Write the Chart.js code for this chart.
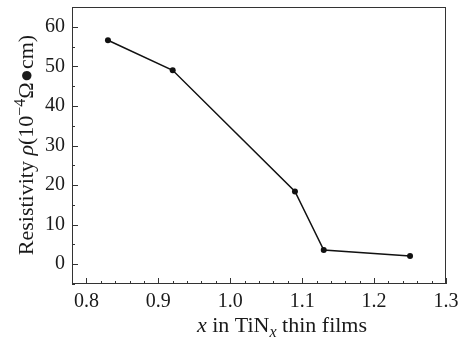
<!DOCTYPE html>
<html>
<head>
<meta charset="utf-8">
<script src="https://cdn.jsdelivr.net/npm/chart.js@4"></script>
<style>
  html, body { margin: 0; padding: 0; background: #fff; }
  #wrap { width: 458px; height: 342px; }
</style>
</head>
<body>
<div id="wrap"><canvas id="grafico" width="458" height="342"></canvas></div>
<script>
// dados
const xValores = [0.83, 0.92, 1.09, 1.13, 1.25]
const resistividade = [56.6, 49.0, 18.4, 3.6, 2.1]
const xTicks = [0.78, 0.80, 0.82, 0.84, 0.86, 0.88, 0.90, 0.92, 0.94, 0.96, 0.98, 1.00, 1.02, 1.04, 1.06, 1.08, 1.10, 1.12, 1.14, 1.16, 1.18, 1.20, 1.22, 1.24, 1.26, 1.28, 1.30]
const yTicks = [-5, 0, 5, 10, 15, 20, 25, 30, 35, 40, 45, 50, 55, 60, 65]

const fonte = '"Liberation Serif", "DejaVu Serif", serif'
const cor = '#1a1a1a'

// desenha ticks para dentro, moldura e títulos dos eixos
const eixosPlugin = {
    id: 'eixos',
    afterDraw(chart) {
        const { ctx, chartArea: a, scales } = chart
        ctx.save()
        ctx.strokeStyle = '#333'
        ctx.lineWidth = 1
        ctx.strokeRect(a.left + 0.5, a.top + 0.5, a.right - a.left - 1, a.bottom - a.top - 1)

        ctx.beginPath()
        scales.x.ticks.forEach(t => {
            const px = Math.round(scales.x.getPixelForValue(t.value)) + 0.5
            const maior = Math.round(t.value * 100) % 10 === 0
            ctx.moveTo(px, a.bottom)
            ctx.lineTo(px, a.bottom - (maior ? 6 : 3))
        })
        scales.y.ticks.forEach(t => {
            const py = Math.round(scales.y.getPixelForValue(t.value)) + 0.5
            const maior = t.value % 10 === 0
            ctx.moveTo(a.left, py)
            ctx.lineTo(a.left + (maior ? 6 : 3), py)
        })
        ctx.stroke()

        ctx.fillStyle = cor
        ctx.textBaseline = 'alphabetic'

        // título eixo x: "x in TiN_x thin films"
        const partesX = [
            { t: 'x', f: 'italic 22px ' + fonte, dy: 0 },
            { t: ' in TiN', f: '22px ' + fonte, dy: 0 },
            { t: 'x', f: 'italic 16px ' + fonte, dy: 5 },
            { t: ' thin films', f: '22px ' + fonte, dy: 0 }
        ]
        desenharPartes(ctx, partesX, 282, 332)

        // título eixo y rotacionado
        ctx.save()
        ctx.translate(33, 145)
        ctx.rotate(-Math.PI / 2)
        const partesY = [
            { t: 'Resistivity ', f: '22px ' + fonte, dy: 0 },
            { t: 'ρ', f: 'italic 22px ' + fonte, dy: 0 },
            { t: '(10', f: '22px ' + fonte, dy: 0 },
            { t: '−4', f: '16px ' + fonte, dy: -8 },
            { t: 'Ω●cm)', f: '22px ' + fonte, dy: 0 }
        ]
        desenharPartes(ctx, partesY, 0, 0)
        ctx.restore()
        ctx.restore()
    }
}

function desenharPartes(ctx, partes, cx, baseY) {
    let total = 0
    partes.forEach(p => { ctx.font = p.f; total += ctx.measureText(p.t).width })
    let x = cx - total / 2
    ctx.textAlign = 'left'
    partes.forEach(p => {
        ctx.font = p.f
        ctx.fillText(p.t, x, baseY + p.dy)
        x += ctx.measureText(p.t).width
    })
}

const ctx = document.getElementById('grafico').getContext('2d')
new Chart(ctx, {
    type: 'line',
    data: {
        datasets: [{
            label: 'Resistividade',
            data: xValores.map((x, i) => ({ x: x, y: resistividade[i] })),
            borderColor: '#111',
            backgroundColor: '#111',
            borderWidth: 1.5,
            pointRadius: 3,
            pointBorderWidth: 0,
            tension: 0
        }]
    },
    options: {
        responsive: false,
        animation: false,
        layout: { padding: { left: 0, top: 7, right: 12, bottom: 0 } },
        plugins: {
            legend: { display: false },
            tooltip: { enabled: false }
        },
        scales: {
            x: {
                type: 'linear',
                min: 0.78,
                max: 1.30,
                afterBuildTicks: s => { s.ticks = xTicks.map(v => ({ value: v })) },
                afterFit: s => { s.height = 58; s.paddingLeft = 0; s.paddingRight = 0 },
                grid: { display: false, drawTicks: false },
                border: { display: false },
                ticks: {
                    autoSkip: false,
                    maxRotation: 0,
                    padding: 6,
                    color: cor,
                    font: { family: fonte, size: 20 },
                    callback: v => Math.round(v * 100) % 10 === 0 ? v.toFixed(1) : ''
                }
            },
            y: {
                min: -5,
                max: 65,
                afterBuildTicks: s => { s.ticks = yTicks.map(v => ({ value: v })) },
                afterFit: s => { s.width = 72; s.paddingTop = 0; s.paddingBottom = 0 },
                grid: { display: false, drawTicks: false },
                border: { display: false },
                ticks: {
                    autoSkip: false,
                    padding: 7,
                    color: cor,
                    font: { family: fonte, size: 20 },
                    callback: v => v % 10 === 0 ? String(v) : ''
                }
            }
        }
    },
    plugins: [eixosPlugin]
})
</script>
</body>
</html>
